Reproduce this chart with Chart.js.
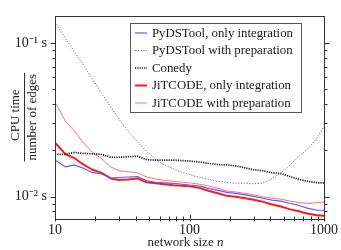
<!DOCTYPE html>
<html><head><meta charset="utf-8">
<script src="https://cdn.jsdelivr.net/npm/chart.js@4.4.0/dist/chart.umd.min.js"></script>
<style>html,body{margin:0;padding:0;background:#fff}canvas{display:block}</style>
</head><body>
<canvas id="c" width="341" height="250"></canvas>
<script>
const networkSizes = [10,12,14,16,19,22,26,30,35,41,48,56,65,76,89,100,120,140,160,190,220,260,300,350,410,480,560,650,760,890,1000];
const pydstoolIntegration = [0.01728,0.01561,0.01607,0.01539,0.01431,0.0141,0.01321,0.01331,0.01341,0.0135,0.01265,0.01238,0.01229,0.0122,0.01202,0.01185,0.01168,0.01126,0.01102,0.01063,0.01047,0.01025,0.01003,0.00974,0.00946,0.00933,0.009,0.00874,0.00837,0.00813,0.00813];
const pydstoolPreparation = [0.1376,0.1075,0.0878,0.0738,0.0585,0.0477,0.0384,0.0318,0.0267,0.0228,0.0197,0.01753,0.01607,0.01516,0.01431,0.0139,0.01331,0.01293,0.01256,0.01238,0.0122,0.0122,0.01211,0.0122,0.01312,0.01431,0.01607,0.01832,0.02042,0.02413,0.02871];
const conedy = [0.01886,0.01886,0.01941,0.01913,0.01899,0.01886,0.01805,0.01805,0.01818,0.01832,0.0174,0.01728,0.01728,0.01728,0.01715,0.01703,0.01679,0.01642,0.01619,0.01607,0.01584,0.01539,0.01495,0.01473,0.01431,0.0141,0.0135,0.01293,0.01256,0.01229,0.01229];
const jitcodeIntegration = [0.02244,0.01886,0.01779,0.01631,0.01495,0.01431,0.01312,0.01283,0.01293,0.01312,0.01238,0.0122,0.01202,0.01185,0.01177,0.01168,0.01134,0.01086,0.01055,0.0101,0.00996,0.00974,0.00953,0.00926,0.00887,0.00861,0.00824,0.00801,0.00772,0.00755,0.0075];
const jitcodePreparation = [0.04127,0.03088,0.0267,0.02277,0.01941,0.01779,0.01561,0.01473,0.01452,0.01431,0.01341,0.01302,0.01274,0.01256,0.01238,0.01229,0.01202,0.01168,0.01134,0.01086,0.01071,0.01047,0.01025,0.00996,0.00974,0.0096,0.00933,0.00913,0.009,0.00913,0.00919];

const seriesLabels = ['PyDSTool, only integration','PyDSTool with preparation','Conedy','JiTCODE, only integration','JiTCODE with preparation'];

const xTickValues = [10,20,30,40,50,60,70,80,90,100,200,300,400,500,600,700,800,900,1000];
const xMajorTicks = [10,100,1000];
const xMajorLabels = ['10','100','1000'];
const yTickValues = [0.008,0.009,0.01,0.02,0.03,0.04,0.05,0.06,0.07,0.08,0.09,0.1];
const yMajorTicks = [0.01,0.1];
const yMajorLabels = ['10\u207B\u00B2 s','10\u207B\u00B9 s'];
const yTitleTop = 'CPU time';
const yTitleBottom = 'number of edges';
const xTitleText = 'network size ';
const xTitleVar = 'n';

const pts = arr => networkSizes.map((n,i)=>({x:n,y:arr[i]}));
const SERIF = '"Liberation Serif", "Times New Roman", serif';

const decor = {
  id:'decor',
  afterDraw(chart){
    const ctx = chart.ctx, a = chart.chartArea, xs = chart.scales.x, ys = chart.scales.y;
    ctx.save();
    ctx.strokeStyle = '#333'; ctx.lineWidth = 1; ctx.setLineDash([]);
    const L = Math.round(a.left), R = Math.round(a.right), T = Math.round(a.top), B = Math.round(a.bottom);
    ctx.strokeRect(L+0.5, T+0.5, R-L, B-T);
    ctx.beginPath();
    xTickValues.forEach(v=>{
      const px = Math.round(xs.getPixelForValue(v))+0.5;
      const major = xMajorTicks.includes(v);
      ctx.moveTo(px, B-(major?4:2.5)); ctx.lineTo(px, B+2.5);
    });
    yTickValues.forEach(v=>{
      const py = Math.round(ys.getPixelForValue(v))+0.5;
      const l = yMajorTicks.includes(v) ? 5 : 3;
      ctx.moveTo(L-l+0.5, py); ctx.lineTo(L+0.5, py);
      ctx.moveTo(R+0.5, py); ctx.lineTo(R+l+0.5, py);
    });
    ctx.stroke();

    // x title
    ctx.fillStyle = '#1a1a1a';
    ctx.font = '13px ' + SERIF;
    const w1 = ctx.measureText(xTitleText).width;
    ctx.font = 'italic 13px ' + SERIF;
    const w2 = ctx.measureText(xTitleVar).width;
    const cx = (a.left + a.right)/2 - 4;
    let sx = cx - (w1+w2)/2;
    ctx.textBaseline = 'alphabetic'; ctx.textAlign = 'left';
    ctx.font = '13px ' + SERIF;
    ctx.fillText(xTitleText, sx, 245.5);
    ctx.font = 'italic 13px ' + SERIF;
    ctx.fillText(xTitleVar, sx + w1, 245.5);

    // y title as fraction
    ctx.save();
    ctx.translate(24.5, (a.top + a.bottom)/2 - 0.5);
    ctx.rotate(-Math.PI/2);
    ctx.font = '13px ' + SERIF;
    ctx.textAlign = 'center';
    const wb = ctx.measureText(yTitleBottom).width;
    ctx.fillText(yTitleTop, 2, -5.5);
    ctx.fillText(yTitleBottom, 0, 11);
    ctx.strokeStyle = '#1a1a1a'; ctx.lineWidth = 0.9;
    ctx.beginPath(); ctx.moveTo(-wb/2-1, 0); ctx.lineTo(wb/2+1, 0); ctx.stroke();
    ctx.restore();

    // legend
    const lx = Math.round(a.left) + 75, ly = Math.round(a.top) + 7, lw = 171, lh = 89;
    ctx.fillStyle = '#fff'; ctx.fillRect(lx, ly, lw, lh);
    ctx.strokeStyle = '#555'; ctx.lineWidth = 1;
    ctx.strokeRect(lx+0.5, ly+0.5, lw, lh);
    chart.data.datasets.forEach((ds,i)=>{
      const cy = ly + 10 + i*17.5;
      ctx.beginPath();
      ctx.setLineDash(ds.borderDash || []);
      ctx.strokeStyle = ds.borderColor; ctx.lineWidth = ds.borderWidth;
      ctx.moveTo(lx+5, cy); ctx.lineTo(lx+17, cy); ctx.stroke();
      ctx.setLineDash([]);
      ctx.fillStyle = '#1a1a1a';
      ctx.font = '12.8px ' + SERIF;
      ctx.textBaseline = 'middle'; ctx.textAlign = 'left';
      ctx.fillText(ds.label, lx+22, cy+0.5);
    });
    ctx.restore();
  }
};

new Chart(document.getElementById('c'), {
  type: 'line',
  data: {
    datasets: [
      {label: seriesLabels[0], data: pts(pydstoolIntegration), borderColor: '#5c5cff', borderWidth: 1.2, borderDash: []},
      {label: seriesLabels[1], data: pts(pydstoolPreparation), borderColor: '#5c5cff', borderWidth: 1, borderDash: [1.2,1.6]},
      {label: seriesLabels[2], data: pts(conedy), borderColor: '#1a1a1a', borderWidth: 1.7, borderDash: [1.2,1.1]},
      {label: seriesLabels[3], data: pts(jitcodeIntegration), borderColor: '#ff1a1a', borderWidth: 2, borderDash: []},
      {label: seriesLabels[4], data: pts(jitcodePreparation), borderColor: '#ff7373', borderWidth: 1, borderDash: []}
    ]
  },
  options: {
    responsive: false,
    devicePixelRatio: 1,
    animation: false,
    layout: {padding: {top: 9, right: 13, left: 0, bottom: 0}},
    elements: {point: {radius: 0, hoverRadius: 0}, line: {tension: 0, borderJoinStyle: 'round', fill: false}},
    plugins: {legend: {display: false}, tooltip: {enabled: false}},
    scales: {
      x: {
        type: 'logarithmic', min: 10, max: 1000, position: 'bottom',
        afterBuildTicks: s => { s.ticks = xTickValues.map(v=>({value:v})); },
        afterFit: s => { s.height = 31; },
        grid: {display: false, drawTicks: false},
        border: {display: false},
        ticks: {autoSkip: false, maxRotation: 0, padding: 3, color: '#1a1a1a',
          font: {family: SERIF, size: 14},
          callback: v => { const k = xMajorTicks.indexOf(v); return k >= 0 ? xMajorLabels[k] : ''; }}
      },
      y: {
        type: 'logarithmic', min: 0.00713, max: 0.15, position: 'left',
        afterBuildTicks: s => { s.ticks = yTickValues.map(v=>({value:v})); },
        afterFit: s => { s.width = 55; },
        grid: {display: false, drawTicks: false},
        border: {display: false},
        ticks: {autoSkip: false, padding: 8, color: '#1a1a1a',
          font: {family: SERIF, size: 14},
          callback: v => { const k = yMajorTicks.findIndex(m => Math.abs(m - v) < 1e-9); return k >= 0 ? yMajorLabels[k] : ''; }}
      }
    }
  },
  plugins: [decor]
});
</script>
</body></html>
